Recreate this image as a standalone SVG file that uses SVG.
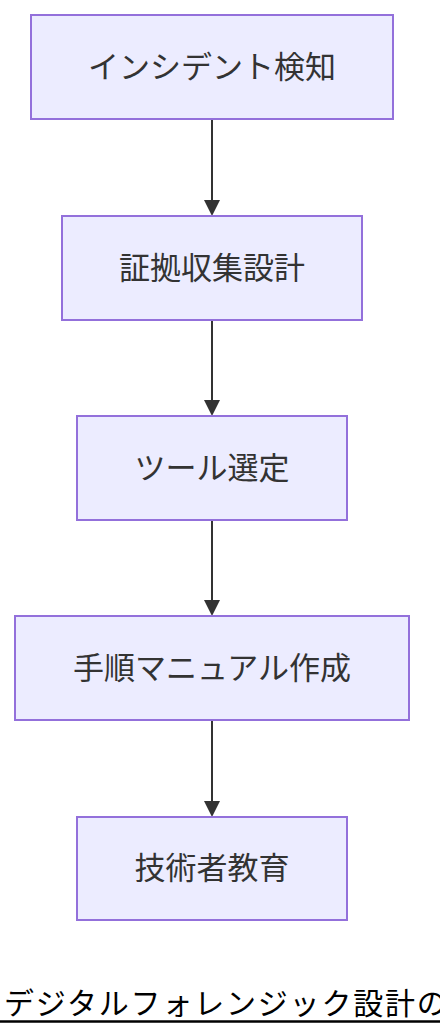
<svg xmlns="http://www.w3.org/2000/svg" width="440" height="1036" viewBox="0 0 440 1036">
<defs>
<style>
.box{fill:#ECECFF;stroke:#9370DB;stroke-width:2}
.lbl{font-family:"Noto Sans CJK JP","Noto Sans",sans-serif;font-size:31px;fill:#333;text-anchor:middle;dominant-baseline:central}
.edge{stroke:#333;stroke-width:2;fill:none}
.head{fill:#333}
.title{font-family:"Noto Sans CJK JP","Noto Sans",sans-serif;font-size:30px;fill:#000;letter-spacing:1.8px}
</style>
</defs>
<rect width="440" height="1036" fill="#fff"/>
<g id="edges">
<line class="edge" x1="212" y1="119" x2="212" y2="202"/>
<path class="head" d="M204,200 L220,200 L212,216 z"/>
<line class="edge" x1="212" y1="320" x2="212" y2="402"/>
<path class="head" d="M204,400 L220,400 L212,416 z"/>
<line class="edge" x1="212" y1="520" x2="212" y2="602"/>
<path class="head" d="M204,600 L220,600 L212,616 z"/>
<line class="edge" x1="212" y1="720" x2="212" y2="803"/>
<path class="head" d="M204,801 L220,801 L212,817 z"/>
</g>
<g id="n1"><rect class="box" x="31" y="15" width="362" height="104"/><text class="lbl" x="212" y="64">インシデント検知</text></g>
<g id="n2"><rect class="box" x="62" y="216" width="300" height="104"/><text class="lbl" x="212" y="265">証拠収集設計</text></g>
<g id="n3"><rect class="box" x="77" y="416" width="270" height="104"/><text class="lbl" x="212" y="465">ツール選定</text></g>
<g id="n4"><rect class="box" x="15" y="616" width="394" height="104"/><text class="lbl" x="212" y="665">手順マニュアル作成</text></g>
<g id="n5"><rect class="box" x="77" y="817" width="270" height="103"/><text class="lbl" x="212" y="865">技術者教育</text></g>
<g id="title">
<text class="title" x="4" y="1014">デジタルフォレンジック設計の</text>
<line x1="0" y1="1021.5" x2="440" y2="1021.5" stroke="#000" stroke-width="2.5"/>
</g>
</svg>
